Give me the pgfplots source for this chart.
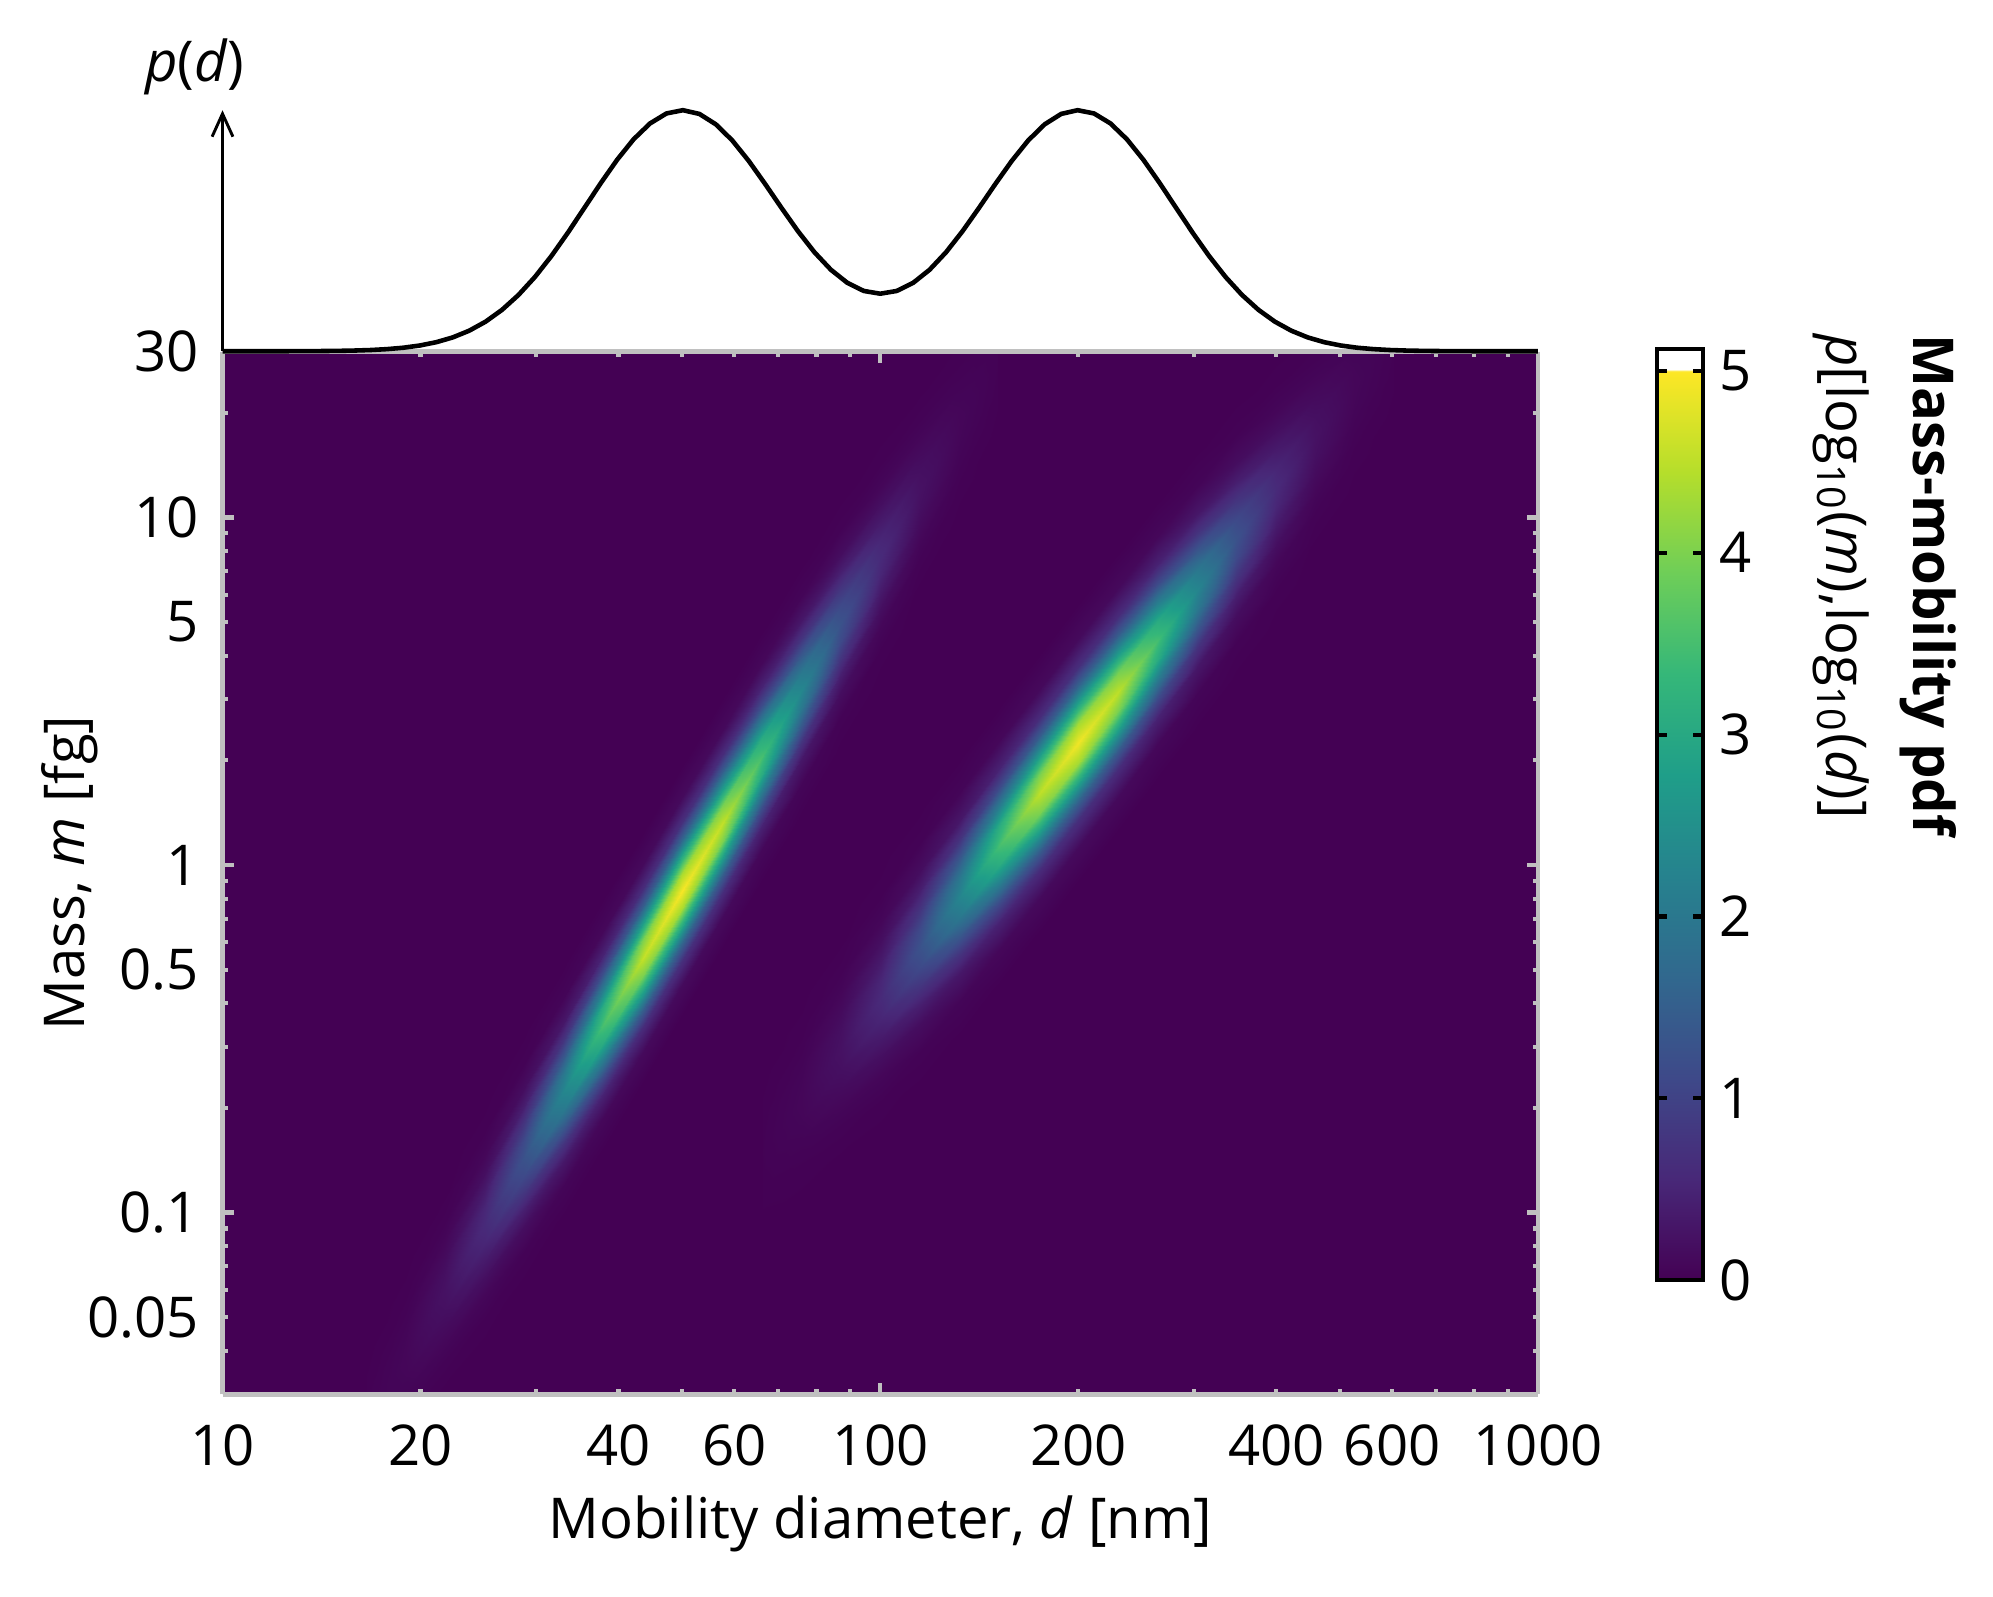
\documentclass[border=0pt]{standalone}
\usepackage{fontspec}
\setmainfont{Open Sans}
\usepackage{pgfplots}
\pgfplotsset{compat=1.18}
\usepackage{pgfplotstable}
\usetikzlibrary{arrows.meta}
\definecolor{frame}{RGB}{192,192,192}

% marginal p(d) over log10(d)
\pgfplotstableread[row sep=\\]{
x p\\
1.000 0\\ 1.025 0\\ 1.050 0\\ 1.075 0.0001\\ 1.100 0.0002\\ 1.125 0.0004\\ 1.150 0.0009\\ 1.175 0.0016\\
1.200 0.0029\\ 1.225 0.0051\\ 1.250 0.0088\\ 1.275 0.0147\\ 1.300 0.0239\\ 1.325 0.0376\\ 1.350 0.0574\\ 1.375 0.0852\\
1.400 0.1228\\ 1.425 0.1719\\ 1.450 0.2336\\ 1.475 0.3082\\ 1.500 0.3950\\ 1.525 0.4916\\ 1.550 0.5941\\ 1.575 0.6972\\
1.600 0.7946\\ 1.625 0.8795\\ 1.650 0.9453\\ 1.675 0.9867\\ 1.700 1.0002\\ 1.725 0.9847\\ 1.750 0.9416\\ 1.775 0.8748\\
1.800 0.7900\\ 1.825 0.6940\\ 1.850 0.5943\\ 1.875 0.4978\\ 1.900 0.4107\\ 1.925 0.3381\\ 1.950 0.2838\\ 1.975 0.2502\\
2.000 0.2388\\ 2.025 0.2502\\ 2.050 0.2838\\ 2.075 0.3381\\ 2.100 0.4107\\ 2.125 0.4978\\ 2.150 0.5943\\ 2.175 0.6940\\
2.200 0.7900\\ 2.225 0.8748\\ 2.250 0.9416\\ 2.275 0.9847\\ 2.300 1.0002\\ 2.325 0.9867\\ 2.350 0.9453\\ 2.375 0.8795\\
2.400 0.7946\\ 2.425 0.6972\\ 2.450 0.5941\\ 2.475 0.4916\\ 2.500 0.3950\\ 2.525 0.3082\\ 2.550 0.2336\\ 2.575 0.1719\\
2.600 0.1228\\ 2.625 0.0852\\ 2.650 0.0574\\ 2.675 0.0376\\ 2.700 0.0239\\ 2.725 0.0147\\ 2.750 0.0088\\ 2.775 0.0051\\
2.800 0.0029\\ 2.825 0.0016\\ 2.850 0.0009\\ 2.875 0.0004\\ 2.900 0.0002\\ 2.925 0.0001\\ 2.950 0\\ 2.975 0\\ 3.000 0\\
}\margin

% mode 1 (d ~ 50 nm): columns of 13 points, x = log10(d), y = log10(m), z = pdf
\pgfplotstableread[row sep=\\]{
x y z\\
1.219 -1.971 0\\ 1.219 -1.881 0.001\\ 1.219 -1.811 0.003\\ 1.219 -1.761 0.007\\ 1.219 -1.711 0.013\\ 1.219 -1.661 0.019\\ 1.219 -1.611 0.022\\ 1.219 -1.561 0.019\\ 1.219 -1.511 0.013\\ 1.219 -1.461 0.007\\ 1.219 -1.411 0.003\\ 1.219 -1.341 0.001\\ 1.219 -1.251 0\\
1.279 -1.779 0\\ 1.279 -1.689 0.002\\ 1.279 -1.619 0.011\\ 1.279 -1.569 0.026\\ 1.279 -1.519 0.048\\ 1.279 -1.469 0.070\\ 1.279 -1.419 0.079\\ 1.279 -1.369 0.070\\ 1.279 -1.319 0.048\\ 1.279 -1.269 0.026\\ 1.279 -1.219 0.011\\ 1.279 -1.149 0.002\\ 1.279 -1.059 0\\
1.339 -1.587 0\\ 1.339 -1.497 0.006\\ 1.339 -1.427 0.032\\ 1.339 -1.377 0.077\\ 1.339 -1.327 0.144\\ 1.339 -1.277 0.209\\ 1.339 -1.227 0.237\\ 1.339 -1.177 0.209\\ 1.339 -1.127 0.144\\ 1.339 -1.077 0.077\\ 1.339 -1.027 0.032\\ 1.339 -0.957 0.006\\ 1.339 -0.867 0\\
1.399 -1.395 0\\ 1.399 -1.305 0.016\\ 1.399 -1.235 0.081\\ 1.399 -1.185 0.194\\ 1.399 -1.135 0.363\\ 1.399 -1.085 0.529\\ 1.399 -1.035 0.599\\ 1.399 -0.985 0.529\\ 1.399 -0.935 0.363\\ 1.399 -0.885 0.194\\ 1.399 -0.835 0.081\\ 1.399 -0.765 0.016\\ 1.399 -0.675 0\\
1.459 -1.203 0\\ 1.459 -1.113 0.033\\ 1.459 -1.043 0.173\\ 1.459 -0.993 0.416\\ 1.459 -0.943 0.778\\ 1.459 -0.893 1.131\\ 1.459 -0.843 1.282\\ 1.459 -0.793 1.131\\ 1.459 -0.743 0.778\\ 1.459 -0.693 0.416\\ 1.459 -0.643 0.173\\ 1.459 -0.573 0.033\\ 1.459 -0.483 0\\
1.519 -1.011 0\\ 1.519 -0.921 0.060\\ 1.519 -0.851 0.313\\ 1.519 -0.801 0.752\\ 1.519 -0.751 1.404\\ 1.519 -0.701 2.043\\ 1.519 -0.651 2.315\\ 1.519 -0.601 2.043\\ 1.519 -0.551 1.404\\ 1.519 -0.501 0.752\\ 1.519 -0.451 0.313\\ 1.519 -0.381 0.060\\ 1.519 -0.291 0\\
1.579 -0.819 0\\ 1.579 -0.729 0.092\\ 1.579 -0.659 0.478\\ 1.579 -0.609 1.147\\ 1.579 -0.559 2.142\\ 1.579 -0.509 3.116\\ 1.579 -0.459 3.531\\ 1.579 -0.409 3.116\\ 1.579 -0.359 2.142\\ 1.579 -0.309 1.147\\ 1.579 -0.259 0.478\\ 1.579 -0.189 0.092\\ 1.579 -0.099 0\\
1.639 -0.627 0\\ 1.639 -0.537 0.119\\ 1.639 -0.467 0.615\\ 1.639 -0.417 1.477\\ 1.639 -0.367 2.759\\ 1.639 -0.317 4.014\\ 1.639 -0.267 4.549\\ 1.639 -0.217 4.014\\ 1.639 -0.167 2.759\\ 1.639 -0.117 1.477\\ 1.639 -0.067 0.615\\ 1.639 0.003 0.119\\ 1.639 0.093 0\\
1.699 -0.435 0\\ 1.699 -0.345 0.129\\ 1.699 -0.275 0.670\\ 1.699 -0.225 1.607\\ 1.699 -0.175 3.002\\ 1.699 -0.125 4.368\\ 1.699 -0.075 4.950\\ 1.699 -0.025 4.368\\ 1.699 0.025 3.002\\ 1.699 0.075 1.607\\ 1.699 0.125 0.670\\ 1.699 0.195 0.129\\ 1.699 0.285 0\\
1.759 -0.243 0\\ 1.759 -0.153 0.119\\ 1.759 -0.083 0.615\\ 1.759 -0.033 1.477\\ 1.759 0.017 2.759\\ 1.759 0.067 4.014\\ 1.759 0.117 4.549\\ 1.759 0.167 4.014\\ 1.759 0.217 2.759\\ 1.759 0.267 1.477\\ 1.759 0.317 0.615\\ 1.759 0.387 0.119\\ 1.759 0.477 0\\
1.819 -0.051 0\\ 1.819 0.039 0.092\\ 1.819 0.109 0.478\\ 1.819 0.159 1.147\\ 1.819 0.209 2.142\\ 1.819 0.259 3.116\\ 1.819 0.309 3.531\\ 1.819 0.359 3.116\\ 1.819 0.409 2.142\\ 1.819 0.459 1.147\\ 1.819 0.509 0.478\\ 1.819 0.579 0.092\\ 1.819 0.669 0\\
1.879 0.141 0\\ 1.879 0.231 0.060\\ 1.879 0.301 0.313\\ 1.879 0.351 0.752\\ 1.879 0.401 1.404\\ 1.879 0.451 2.043\\ 1.879 0.501 2.315\\ 1.879 0.551 2.043\\ 1.879 0.601 1.404\\ 1.879 0.651 0.752\\ 1.879 0.701 0.313\\ 1.879 0.771 0.060\\ 1.879 0.861 0\\
1.939 0.333 0\\ 1.939 0.423 0.033\\ 1.939 0.493 0.173\\ 1.939 0.543 0.416\\ 1.939 0.593 0.778\\ 1.939 0.643 1.131\\ 1.939 0.693 1.282\\ 1.939 0.743 1.131\\ 1.939 0.793 0.778\\ 1.939 0.843 0.416\\ 1.939 0.893 0.173\\ 1.939 0.963 0.033\\ 1.939 1.053 0\\
1.999 0.525 0\\ 1.999 0.615 0.016\\ 1.999 0.685 0.081\\ 1.999 0.735 0.194\\ 1.999 0.785 0.363\\ 1.999 0.835 0.529\\ 1.999 0.885 0.599\\ 1.999 0.935 0.529\\ 1.999 0.985 0.363\\ 1.999 1.035 0.194\\ 1.999 1.085 0.081\\ 1.999 1.155 0.016\\ 1.999 1.245 0\\
2.059 0.717 0\\ 2.059 0.807 0.006\\ 2.059 0.877 0.032\\ 2.059 0.927 0.077\\ 2.059 0.977 0.144\\ 2.059 1.027 0.209\\ 2.059 1.077 0.237\\ 2.059 1.127 0.209\\ 2.059 1.177 0.144\\ 2.059 1.227 0.077\\ 2.059 1.277 0.032\\ 2.059 1.347 0.006\\ 2.059 1.437 0\\
2.119 0.909 0\\ 2.119 0.999 0.002\\ 2.119 1.069 0.011\\ 2.119 1.119 0.026\\ 2.119 1.169 0.048\\ 2.119 1.219 0.070\\ 2.119 1.269 0.079\\ 2.119 1.319 0.070\\ 2.119 1.369 0.048\\ 2.119 1.419 0.026\\ 2.119 1.469 0.011\\ 2.119 1.539 0.002\\ 2.119 1.629 0\\
2.179 1.101 0\\ 2.179 1.191 0.001\\ 2.179 1.261 0.003\\ 2.179 1.311 0.007\\ 2.179 1.361 0.013\\ 2.179 1.411 0.019\\ 2.179 1.461 0.022\\ 2.179 1.511 0.019\\ 2.179 1.561 0.013\\ 2.179 1.611 0.007\\ 2.179 1.661 0.003\\ 2.179 1.731 0.001\\ 2.179 1.821 0\\
}\modeA

% mode 2 (d ~ 200 nm)
\pgfplotstableread[row sep=\\]{
x y z\\
1.821 -1.226 0\\ 1.821 -1.126 0.001\\ 1.821 -1.046 0.003\\ 1.821 -0.991 0.007\\ 1.821 -0.936 0.013\\ 1.821 -0.881 0.019\\ 1.821 -0.826 0.022\\ 1.821 -0.771 0.019\\ 1.821 -0.716 0.013\\ 1.821 -0.661 0.007\\ 1.821 -0.606 0.003\\ 1.821 -0.526 0.001\\ 1.821 -0.426 0\\
1.881 -1.079 0\\ 1.881 -0.979 0.002\\ 1.881 -0.899 0.011\\ 1.881 -0.844 0.025\\ 1.881 -0.789 0.047\\ 1.881 -0.734 0.069\\ 1.881 -0.679 0.078\\ 1.881 -0.624 0.069\\ 1.881 -0.569 0.047\\ 1.881 -0.514 0.025\\ 1.881 -0.459 0.011\\ 1.881 -0.379 0.002\\ 1.881 -0.279 0\\
1.941 -0.932 0\\ 1.941 -0.832 0.006\\ 1.941 -0.752 0.032\\ 1.941 -0.697 0.076\\ 1.941 -0.642 0.142\\ 1.941 -0.587 0.207\\ 1.941 -0.532 0.234\\ 1.941 -0.477 0.207\\ 1.941 -0.422 0.142\\ 1.941 -0.367 0.076\\ 1.941 -0.312 0.032\\ 1.941 -0.232 0.006\\ 1.941 -0.132 0\\
2.001 -0.785 0\\ 2.001 -0.685 0.015\\ 2.001 -0.605 0.080\\ 2.001 -0.550 0.193\\ 2.001 -0.495 0.360\\ 2.001 -0.440 0.523\\ 2.001 -0.385 0.593\\ 2.001 -0.330 0.523\\ 2.001 -0.275 0.360\\ 2.001 -0.220 0.193\\ 2.001 -0.165 0.080\\ 2.001 -0.085 0.015\\ 2.001 0.015 0\\
2.061 -0.638 0\\ 2.061 -0.538 0.033\\ 2.061 -0.458 0.172\\ 2.061 -0.403 0.412\\ 2.061 -0.348 0.770\\ 2.061 -0.293 1.120\\ 2.061 -0.238 1.269\\ 2.061 -0.183 1.120\\ 2.061 -0.128 0.770\\ 2.061 -0.073 0.412\\ 2.061 -0.018 0.172\\ 2.061 0.062 0.033\\ 2.061 0.162 0\\
2.121 -0.491 0\\ 2.121 -0.391 0.060\\ 2.121 -0.311 0.310\\ 2.121 -0.256 0.744\\ 2.121 -0.201 1.390\\ 2.121 -0.146 2.023\\ 2.121 -0.091 2.292\\ 2.121 -0.036 2.023\\ 2.121 0.019 1.390\\ 2.121 0.074 0.744\\ 2.121 0.129 0.310\\ 2.121 0.209 0.060\\ 2.121 0.309 0\\
2.181 -0.344 0\\ 2.181 -0.244 0.091\\ 2.181 -0.164 0.473\\ 2.181 -0.109 1.135\\ 2.181 -0.054 2.120\\ 2.181 0.001 3.084\\ 2.181 0.056 3.495\\ 2.181 0.111 3.084\\ 2.181 0.166 2.120\\ 2.181 0.221 1.135\\ 2.181 0.276 0.473\\ 2.181 0.356 0.091\\ 2.181 0.456 0\\
2.241 -0.197 0\\ 2.241 -0.097 0.118\\ 2.241 -0.017 0.609\\ 2.241 0.038 1.462\\ 2.241 0.093 2.731\\ 2.241 0.148 3.974\\ 2.241 0.203 4.503\\ 2.241 0.258 3.974\\ 2.241 0.313 2.731\\ 2.241 0.368 1.462\\ 2.241 0.423 0.609\\ 2.241 0.503 0.118\\ 2.241 0.603 0\\
2.301 -0.050 0\\ 2.301 0.050 0.128\\ 2.301 0.130 0.663\\ 2.301 0.185 1.591\\ 2.301 0.240 2.972\\ 2.301 0.295 4.324\\ 2.301 0.350 4.900\\ 2.301 0.405 4.324\\ 2.301 0.460 2.972\\ 2.301 0.515 1.591\\ 2.301 0.570 0.663\\ 2.301 0.650 0.128\\ 2.301 0.750 0\\
2.361 0.097 0\\ 2.361 0.197 0.118\\ 2.361 0.277 0.609\\ 2.361 0.332 1.462\\ 2.361 0.387 2.731\\ 2.361 0.442 3.974\\ 2.361 0.497 4.503\\ 2.361 0.552 3.974\\ 2.361 0.607 2.731\\ 2.361 0.662 1.462\\ 2.361 0.717 0.609\\ 2.361 0.797 0.118\\ 2.361 0.897 0\\
2.421 0.244 0\\ 2.421 0.344 0.091\\ 2.421 0.424 0.473\\ 2.421 0.479 1.135\\ 2.421 0.534 2.120\\ 2.421 0.589 3.084\\ 2.421 0.644 3.495\\ 2.421 0.699 3.084\\ 2.421 0.754 2.120\\ 2.421 0.809 1.135\\ 2.421 0.864 0.473\\ 2.421 0.944 0.091\\ 2.421 1.044 0\\
2.481 0.391 0\\ 2.481 0.491 0.060\\ 2.481 0.571 0.310\\ 2.481 0.626 0.744\\ 2.481 0.681 1.390\\ 2.481 0.736 2.023\\ 2.481 0.791 2.292\\ 2.481 0.846 2.023\\ 2.481 0.901 1.390\\ 2.481 0.956 0.744\\ 2.481 1.011 0.310\\ 2.481 1.091 0.060\\ 2.481 1.191 0\\
2.541 0.538 0\\ 2.541 0.638 0.033\\ 2.541 0.718 0.172\\ 2.541 0.773 0.412\\ 2.541 0.828 0.770\\ 2.541 0.883 1.120\\ 2.541 0.938 1.269\\ 2.541 0.993 1.120\\ 2.541 1.048 0.770\\ 2.541 1.103 0.412\\ 2.541 1.158 0.172\\ 2.541 1.238 0.033\\ 2.541 1.338 0\\
2.601 0.685 0\\ 2.601 0.785 0.015\\ 2.601 0.865 0.080\\ 2.601 0.920 0.193\\ 2.601 0.975 0.360\\ 2.601 1.030 0.523\\ 2.601 1.085 0.593\\ 2.601 1.140 0.523\\ 2.601 1.195 0.360\\ 2.601 1.250 0.193\\ 2.601 1.305 0.080\\ 2.601 1.385 0.015\\ 2.601 1.485 0\\
2.661 0.832 0\\ 2.661 0.932 0.006\\ 2.661 1.012 0.032\\ 2.661 1.067 0.076\\ 2.661 1.122 0.142\\ 2.661 1.177 0.207\\ 2.661 1.232 0.234\\ 2.661 1.287 0.207\\ 2.661 1.342 0.142\\ 2.661 1.397 0.076\\ 2.661 1.452 0.032\\ 2.661 1.532 0.006\\ 2.661 1.632 0\\
2.721 0.979 0\\ 2.721 1.079 0.002\\ 2.721 1.159 0.011\\ 2.721 1.214 0.025\\ 2.721 1.269 0.047\\ 2.721 1.324 0.069\\ 2.721 1.379 0.078\\ 2.721 1.434 0.069\\ 2.721 1.489 0.047\\ 2.721 1.544 0.025\\ 2.721 1.599 0.011\\ 2.721 1.679 0.002\\ 2.721 1.779 0\\
2.781 1.126 0\\ 2.781 1.226 0.001\\ 2.781 1.306 0.003\\ 2.781 1.361 0.007\\ 2.781 1.416 0.013\\ 2.781 1.471 0.019\\ 2.781 1.526 0.022\\ 2.781 1.581 0.019\\ 2.781 1.636 0.013\\ 2.781 1.691 0.007\\ 2.781 1.746 0.003\\ 2.781 1.826 0.001\\ 2.781 1.926 0\\
}\modeB

\pgfplotstableread[row sep=\\]{
x y z\\
1 -1.52288 0\\ 1 1.47712 0\\ 3 -1.52288 0\\ 3 1.47712 0\\
}\backg

\begin{document}
\fontsize{13.5}{16}\selectfont
\begin{tikzpicture}
\begin{axis}[
  name=main, at={(0,0)}, anchor=south west,
  scale only axis, width=315.7pt, height=250.2pt,
  view={0}{90},
  xmin=1, xmax=3, ymin=-1.52288, ymax=1.47712,
  xtick={1,1.30103,1.60206,1.77815,2,2.30103,2.60206,2.77815,3},
  xticklabels={10,20,40,60,100,200,400,600,1000},
  minor xtick={1.47712,1.69897,1.84510,1.90309,1.95424,2.47712,2.69897,2.84510,2.90309,2.95424},
  ytick={-1.30103,-1,-0.30103,0,0.69897,1,1.47712},
  yticklabels={0.05,0.1,0.5,1,5,10,30},
  minor ytick={-1.39794,-1.22185,-1.15490,-1.09691,-1.04576,-0.69897,-0.52288,-0.39794,-0.22185,-0.15490,-0.09691,-0.04576,0.30103,0.47712,0.60206,0.77815,0.84510,0.90309,0.95424,1.30103},
  extra x ticks={2}, extra x tick labels={}, extra x tick style={major tick length=2.7pt},
  extra y ticks={-1,0,1}, extra y tick labels={}, extra y tick style={major tick length=2.7pt},
  ztick=\empty,
  tick align=inside, xtick pos=both, ytick pos=both,
  major tick length=1.2pt, minor tick length=1.2pt,
  tick style={frame, line width=1pt},
  axis line style={frame, line width=1.1pt},
  axis on top,
  xticklabel style={inner sep=0pt, anchor=center, yshift=-12.2pt},
  yticklabel style={inner sep=0pt, anchor=east, xshift=-5.5pt},
  every axis x label/.style={at={(axis description cs:0.5,-0.1239)}, anchor=center},
  every axis y label/.style={at={(axis description cs:-0.1159,0.5)}, anchor=center, rotate=90},
  xlabel={Mobility diameter, \textit{d} [nm]},
  ylabel={Mass, \textit{m} [fg]},
  colormap={vir}{rgb255(0pt)=(68,1,84) rgb255(50pt)=(72,40,120) rgb255(100pt)=(62,73,137)
    rgb255(150pt)=(49,104,142) rgb255(200pt)=(38,130,142) rgb255(250pt)=(31,158,137)
    rgb255(300pt)=(53,183,121) rgb255(350pt)=(110,206,88) rgb255(400pt)=(181,222,43)
    rgb255(450pt)=(253,231,37) rgb255(451pt)=(255,255,255) rgb255(461pt)=(255,255,255)},
  point meta min=0, point meta max=5.12,
  colorbar right,
  colorbar style={
    at={(parent axis.south east)}, anchor=south west,
    xshift=20.1pt, yshift=27.4pt,
    scale only axis, width=11pt, height=223.4pt,
    ytick={0,1,2,3,4,5}, yticklabels={0,1,2,3,4,5},
    tick align=inside, ytick pos=both, yticklabel pos=right,
    major tick length=2.4pt,
    tick style={black, line width=1pt},
    axis line style={black, line width=1pt},
    yticklabel style={inner sep=0pt, anchor=west, xshift=3.7pt},
  },
]
\addplot3[surf, shader=flat, mesh/rows=2, mesh/ordering=y varies, point meta=\thisrow{z}] table {\backg};
\addplot3[surf, shader=interp, mesh/rows=13, mesh/ordering=y varies, point meta=\thisrow{z}] table {\modeA};
\addplot3[surf, shader=interp, mesh/rows=13, mesh/ordering=y varies, point meta=\thisrow{z}] table {\modeB};
\end{axis}

\begin{axis}[
  at={(0,250.3pt)}, anchor=south west,
  scale only axis, width=315.7pt, height=57.84pt,
  xmin=1, xmax=3, ymin=0, ymax=1,
  axis lines=none, clip=false,
]
\addplot[black, line width=1.1pt, line join=round] table[x=x, y=p] {\margin};
\draw[black, line width=0.7pt, -{Straight Barb[length=5.5pt, width=5pt]}] (axis cs:1,0) -- (axis cs:1,1);
\node at (axis cs:0.958,1.18) {\textit{p}(\textit{d})};
\end{axis}

\node[rotate=-90, anchor=north west, align=left, inner sep=0pt,
  font=\fontsize{13.5}{21}\selectfont] at (416.4pt,254.6pt)
  {\textbf{Mass-mobility pdf}\\\textit{p}[log\textsubscript{10}(\textit{m}),log\textsubscript{10}(\textit{d})]};

\pgfresetboundingbox
\path (-53.4pt,-48.5pt) rectangle (424.9pt,334.6pt);
\end{tikzpicture}
\end{document}
